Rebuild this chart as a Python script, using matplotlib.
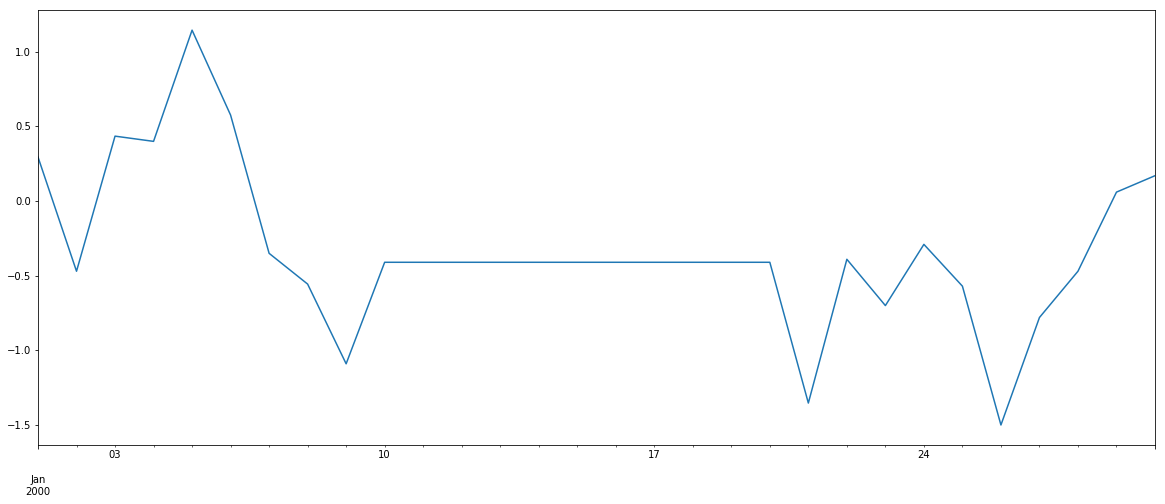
import matplotlib
matplotlib.use("Agg")
import matplotlib.pyplot as plt
import pandas as pd

dates = pd.date_range("2000-01-01", periods=30, freq="D")
values = [0.295, -0.47, 0.435, 0.40, 1.145, 0.576, -0.35, -0.556, -1.09, -0.41,
          -0.41, -0.41, -0.41, -0.41, -0.41, -0.41, -0.41, -0.41, -0.41, -0.41,
          -1.353, -0.39, -0.70, -0.29, -0.57, -1.50, -0.78, -0.47, 0.06, 0.17]

series = pd.Series(values, index=dates)

fig = plt.figure(figsize=(1165/72, 504/72), dpi=72)
ax = fig.add_axes([38/1165, 1 - 445/504, (1155-38)/1165, (445-10)/504])
series.plot(ax=ax, color="#1f77b4", linewidth=1.5)
ax.set_ylim(-1.634, 1.28)
ax.set_yticks([-1.5, -1.0, -0.5, 0.0, 0.5, 1.0])
ax.set_xlabel("")
fig.savefig("out.png", dpi=72)
